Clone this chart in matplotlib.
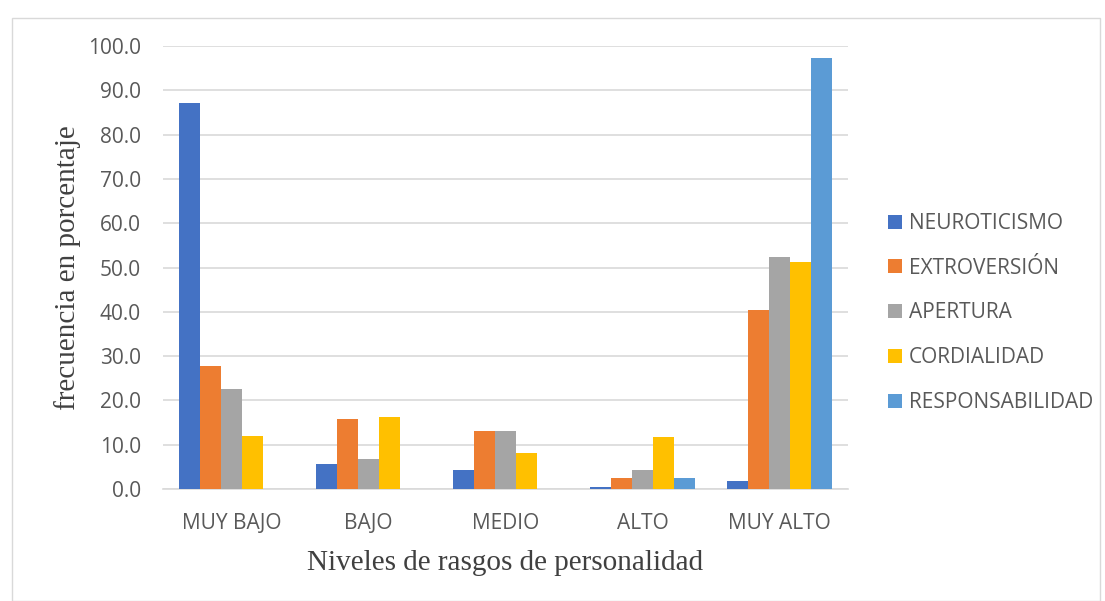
import numpy as np
import matplotlib.pyplot as plt
from matplotlib.patches import Rectangle

# datos
niveles = ['MUY BAJO', 'BAJO', 'MEDIO', 'ALTO', 'MUY ALTO']
rasgos = ['NEUROTICISMO', 'EXTROVERSIÓN', 'APERTURA', 'CORDIALIDAD', 'RESPONSABILIDAD']
neuroticismo = [87.2, 5.6, 4.3, 0.5, 1.8]
extroversion = [27.8, 15.7, 13.2, 2.4, 40.4]
apertura = [22.6, 6.8, 13.2, 4.3, 52.4]
cordialidad = [11.9, 16.3, 8.1, 11.8, 51.2]
responsabilidad = [0.0, 0.0, 0.0, 2.4, 97.3]
colores = ['#4472C4', '#ED7D31', '#A5A5A5', '#FFC000', '#5B9BD5']

series = [neuroticismo, extroversion, apertura, cordialidad, responsabilidad]

fig = plt.figure(figsize=(11.05, 6.01), dpi=100)
ax = fig.add_axes([163/1105, 1-489/601, 685/1105, (489-46)/601])

x = np.arange(len(niveles))
w = 0.153
for i, (s, c, n) in enumerate(zip(series, colores, rasgos)):
    ax.bar(x + (i - 2) * w, s, w, color=c, label=n, zorder=3)

ax.set_xlim(-0.5, 4.5)
ax.set_ylim(0, 100)
ax.set_yticks(np.arange(0, 101, 10))
ax.set_yticklabels(['%.1f' % v for v in np.arange(0, 101, 10)])
ax.set_xticks(x)
ax.set_xticklabels(niveles)
ax.grid(axis='y', color='#D9D9D9', lw=1.2, zorder=0)
for sp in ['top', 'right', 'left']:
    ax.spines[sp].set_visible(False)
ax.spines['bottom'].set_color('#D9D9D9')
ax.spines['bottom'].set_linewidth(1.2)
ax.tick_params(length=0, labelsize=15, labelcolor='#595959')
ax.tick_params(axis='x', pad=17)
ax.tick_params(axis='y', pad=16)
for t in ax.get_xticklabels() + ax.get_yticklabels():
    t.set_family('Open Sans')

ax.set_ylabel('frecuencia en porcentaje', family='Liberation Serif', fontsize=21,
              color='#404040', labelpad=5)
ax.set_xlabel('Niveles de rasgos de personalidad', family='Liberation Serif',
              fontsize=21, color='#404040', labelpad=12)

leg = fig.legend(loc='upper left', bbox_to_anchor=(888/1105, 1-213/601),
                 bbox_transform=fig.transFigure, frameon=False, borderpad=0,
                 borderaxespad=0, prop={'family': 'Open Sans', 'size': 15},
                 labelspacing=1.14, handlelength=0.65, handleheight=0.65,
                 handletextpad=0.35)
for t in leg.get_texts():
    t.set_color('#595959')

fig.patches.append(Rectangle((12/1105, 0), 1088/1105, 1-18/601, transform=fig.transFigure,
                             fill=False, edgecolor='#D9D9D9', lw=1))

fig.savefig('out.png', dpi=100)
